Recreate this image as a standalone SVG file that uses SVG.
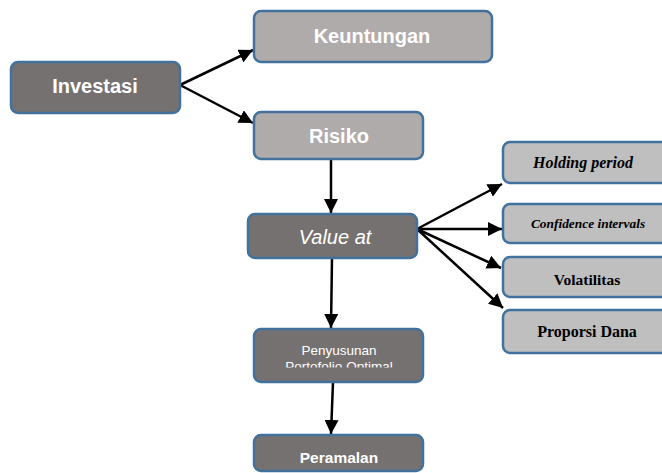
<svg xmlns="http://www.w3.org/2000/svg" width="662" height="473" viewBox="0 0 662 473">
<style>
.dark{fill:#767171;stroke:#41719C;stroke-width:2.5}
.light{fill:#AFABAB;stroke:#41719C;stroke-width:2.5}
.pale{fill:#BFBFBF;stroke:#41719C;stroke-width:2.5}
.ws{font-family:"Liberation Sans",Arial,sans-serif;fill:#fff;text-anchor:middle}
.ser{font-family:"Liberation Serif","Times New Roman",serif;fill:#000;font-weight:bold;text-anchor:middle}
.conn line{stroke:#000;stroke-width:2.5;marker-end:url(#ah)}
</style>
<defs>
<marker id="ah" markerUnits="userSpaceOnUse" markerWidth="14" markerHeight="14" viewBox="0 0 14 14" refX="14" refY="7" orient="auto">
<path d="M0,0 L14,7 L0,14 z" fill="#000"/>
</marker>
<clipPath id="clipP"><rect x="254" y="329" width="169" height="38.5"/></clipPath>
</defs>
<rect width="662" height="473" fill="#fff"/>
<g class="conn">
<line x1="180" y1="85" x2="253" y2="50"/>
<line x1="180" y1="85" x2="253" y2="123"/>
<line x1="331" y1="159" x2="331" y2="213"/>
<line x1="332" y1="258" x2="331" y2="328"/>
<line x1="333" y1="382" x2="331" y2="434"/>
<line x1="417" y1="229" x2="502" y2="184"/>
<line x1="417" y1="229" x2="502" y2="229"/>
<line x1="417" y1="229" x2="501" y2="268"/>
<line x1="417" y1="229" x2="503" y2="308"/>
</g>
<g id="investasi"><rect class="dark" x="11" y="62" width="169" height="51" rx="7"/><text class="ws" x="95" y="93" font-size="20" font-weight="bold">Investasi</text></g>
<g id="keuntungan"><rect class="light" x="254" y="11" width="238" height="51" rx="7"/><text class="ws" x="372" y="43" font-size="20" font-weight="bold">Keuntungan</text></g>
<g id="risiko"><rect class="light" x="254" y="112" width="169" height="47" rx="7"/><text class="ws" x="339" y="143" font-size="20" font-weight="bold">Risiko</text></g>
<g id="var"><rect class="dark" x="248" y="214" width="169" height="44" rx="7"/><text class="ws" x="335" y="244" font-size="20" font-style="italic">Value at</text></g>
<g id="penyusunan"><rect class="dark" x="254" y="329" width="169" height="53" rx="7"/>
<g clip-path="url(#clipP)"><text class="ws" x="339" y="355" font-size="13.5">Penyusunan</text><text class="ws" x="339" y="370.5" font-size="13.5">Portofolio Optimal</text></g></g>
<g id="peramalan"><rect class="dark" x="254" y="435" width="169" height="36" rx="7"/><text class="ws" x="339" y="463" font-size="15.5" font-weight="bold">Peramalan</text></g>
<g id="holding"><rect class="pale" x="503" y="142" width="175" height="41" rx="7"/><text class="ser" x="583" y="168" font-size="16" font-style="italic">Holding period</text></g>
<g id="confidence"><rect class="pale" x="503" y="204" width="175" height="39" rx="7"/><text class="ser" x="588" y="228" font-size="13.4" font-style="italic">Confidence intervals</text></g>
<g id="volatilitas"><rect class="pale" x="503" y="257" width="175" height="40" rx="7"/><text class="ser" x="587" y="285" font-size="15.5">Volatilitas</text></g>
<g id="proporsi"><rect class="pale" x="503" y="310" width="175" height="43" rx="7"/><text class="ser" x="587" y="337" font-size="16">Proporsi Dana</text></g>
</svg>
